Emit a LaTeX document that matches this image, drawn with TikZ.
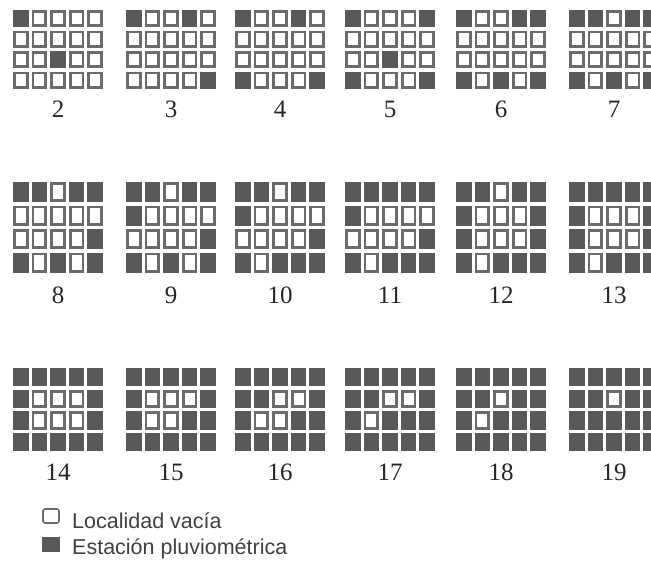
\documentclass[tikz,border=0pt]{standalone}
\usepackage{fontspec}
\setmainfont{Liberation Serif}
\newfontfamily\leyenda{Liberation Sans}
\definecolor{relleno}{gray}{0.35}
\definecolor{borde}{gray}{0.42}
\tikzset{
    estacion/.style={fill=relleno},
    vacia/.style={draw=borde, line width=2.8pt, fill=white},
    numero/.style={font=\fontsize{25}{25}\selectfont, text=black!85, anchor=base, inner sep=0pt},
    textoley/.style={font=\leyenda\fontsize{21.5}{22}\selectfont, text=black!75, anchor=base west, inner sep=0pt}
}
% #1 x, #2 y arriba, #3 paso vertical, #4 y del numero, #5 numero, #6 filas (1 = estacion)
\newcommand{\rejilla}[6]{
    \foreach \fila [count=\r] in {#6} {
        \foreach \v [count=\c] in \fila {
            \pgfmathsetmacro{\cx}{#1+(\c-1)*18.6}
            \pgfmathsetmacro{\cy}{#2+(\r-1)*#3}
            \ifnum\v=1\relax
                \fill[estacion] (\cx,\cy) rectangle ++(15.5,#3-3.5);
            \else
                \draw[vacia] (\cx+1.4,\cy+1.4) rectangle ++(12.7,#3-6.3);
            \fi
        }
    }
    \node[numero] (n#5) at (#1+45,#4) {#5};
}

\begin{document}
\begin{tikzpicture}[x=1pt,y=-1pt]
    \useasboundingbox (0,0) rectangle (651,562);
    \clip (0,0) rectangle (651,562);
    % primera fila
    \rejilla{13}{10}{20.5}{117}{2}{{1,0,0,0,0},{0,0,0,0,0},{0,0,1,0,0},{0,0,0,0,0}}
    \rejilla{126}{10}{20.5}{117}{3}{{1,0,0,1,0},{0,0,0,0,0},{0,0,0,0,0},{0,0,0,0,1}}
    \rejilla{235}{10}{20.5}{117}{4}{{1,0,0,1,0},{0,0,0,0,0},{0,0,0,0,0},{1,0,0,0,1}}
    \rejilla{345}{10}{20.5}{117}{5}{{1,0,0,0,1},{0,0,0,0,0},{0,0,1,0,0},{1,0,0,0,1}}
    \rejilla{456}{10}{20.5}{117}{6}{{1,0,0,1,1},{0,0,0,0,0},{0,0,0,0,0},{1,0,1,0,1}}
    \rejilla{569}{10}{20.5}{117}{7}{{1,1,0,1,1},{0,0,0,0,0},{0,0,0,0,0},{1,0,1,0,1}}
    % segunda fila
    \rejilla{13}{182}{23.5}{303}{8}{{1,1,0,1,1},{0,0,0,0,0},{0,0,0,0,1},{1,0,1,0,1}}
    \rejilla{126}{182}{23.5}{303}{9}{{1,1,0,1,1},{1,0,0,0,0},{0,0,0,0,1},{1,0,1,0,1}}
    \rejilla{235}{182}{23.5}{303}{10}{{1,1,0,1,1},{1,0,0,0,0},{0,0,0,0,1},{1,0,1,1,1}}
    \rejilla{345}{182}{23.5}{303}{11}{{1,1,1,1,1},{1,0,0,0,0},{0,0,0,0,1},{1,0,1,1,1}}
    \rejilla{456}{182}{23.5}{303}{12}{{1,1,0,1,1},{1,0,0,0,1},{1,0,0,0,1},{1,0,1,1,1}}
    \rejilla{569}{182}{23.5}{303}{13}{{1,1,1,1,1},{1,0,0,0,1},{1,0,0,0,1},{1,0,1,1,1}}
    % tercera fila
    \rejilla{13}{368}{21.7}{480}{14}{{1,1,1,1,1},{1,0,0,0,1},{1,0,0,0,1},{1,1,1,1,1}}
    \rejilla{126}{368}{21.7}{480}{15}{{1,1,1,1,1},{1,0,0,0,1},{1,0,0,1,1},{1,1,1,1,1}}
    \rejilla{235}{368}{21.7}{480}{16}{{1,1,1,1,1},{1,1,0,0,1},{1,0,0,1,1},{1,1,1,1,1}}
    \rejilla{345}{368}{21.7}{480}{17}{{1,1,1,1,1},{1,1,0,0,1},{1,0,1,1,1},{1,1,1,1,1}}
    \rejilla{456}{368}{21.7}{480}{18}{{1,1,1,1,1},{1,1,0,1,1},{1,0,1,1,1},{1,1,1,1,1}}
    \rejilla{569}{368}{21.7}{480}{19}{{1,1,1,1,1},{1,1,0,1,1},{1,1,1,1,1},{1,1,1,1,1}}
    % leyenda
    \draw[vacia, line width=1.6pt, rounded corners=2pt] (43,509) rectangle (59,523);
    \fill[estacion] (42,537) rectangle (60,552);
    \node[textoley] (ley1) at (72,528) {Localidad vacía};
    \node[textoley] (ley2) at (72,554) {Estación pluviométrica};
\end{tikzpicture}
\end{document}
